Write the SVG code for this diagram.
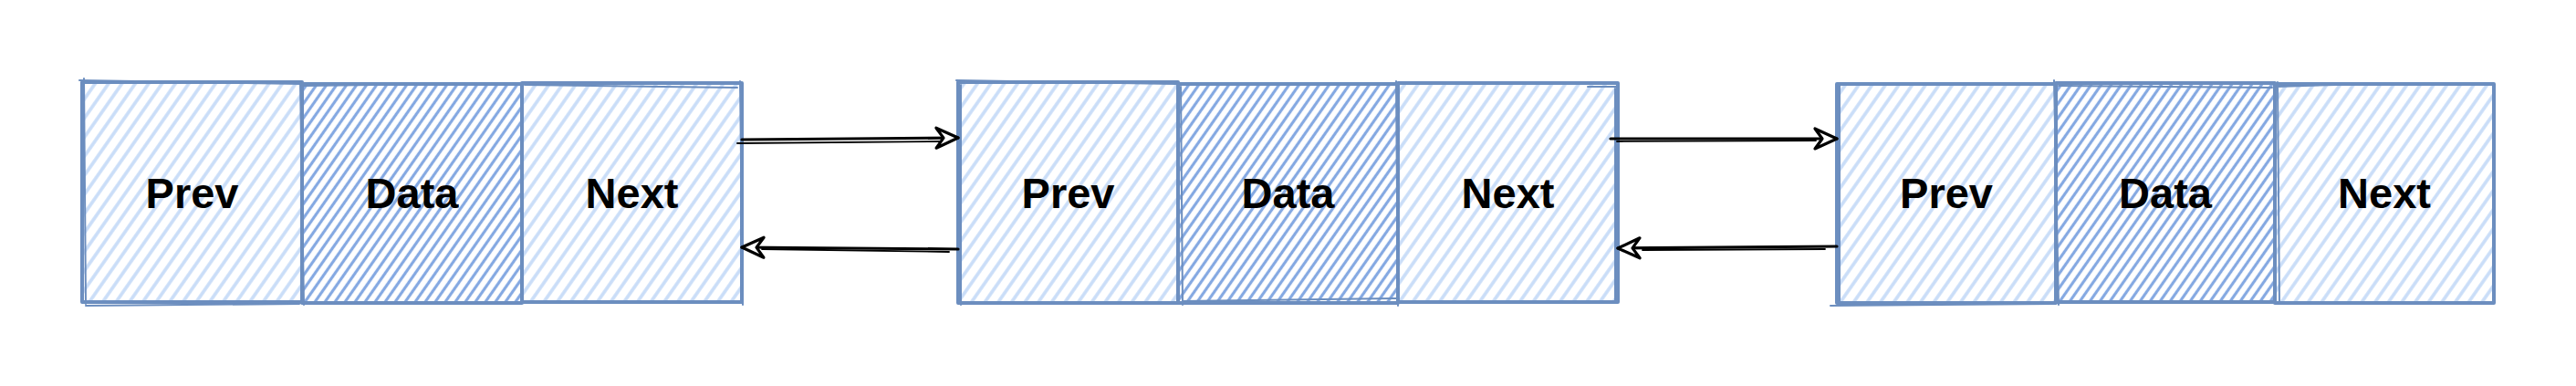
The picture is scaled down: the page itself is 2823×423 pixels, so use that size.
<svg xmlns="http://www.w3.org/2000/svg" width="2823" height="423" viewBox="0 0 2823 423">
  <style>
    .box { stroke: #6c8ebf; stroke-width: 4; stroke-linejoin: round; }
    .light { fill: url(#hLight); }
    .dark { fill: url(#hDark); }
    .rough { fill: none; stroke: #6c8ebf; stroke-width: 2; stroke-linecap: round; }
    .lbl { font-family: "Liberation Sans", Arial, Helvetica, sans-serif; font-weight: bold; font-size: 47px; fill: #000000; text-anchor: middle; }
    .edge { fill: none; stroke: #000000; stroke-width: 3.2; stroke-linecap: round; }
    .edge2 { fill: none; stroke: #000000; stroke-width: 1.8; stroke-linecap: round; }
  </style>
  <defs>
    <pattern id="hLight" patternUnits="userSpaceOnUse" width="12" height="12" patternTransform="rotate(35)">
      <rect x="0" y="0" width="12" height="12" fill="#ffffff"/>
      <line x1="6" y1="0" x2="6" y2="12" stroke="#c9ddf8" stroke-width="3.6"/>
    </pattern>
    <pattern id="hDark" patternUnits="userSpaceOnUse" width="9" height="9" patternTransform="rotate(35)">
      <rect x="0" y="0" width="9" height="9" fill="#ffffff"/>
      <line x1="4.5" y1="0" x2="4.5" y2="9" stroke="#85a9e2" stroke-width="3.2"/>
    </pattern>
    <marker id="arr" markerUnits="userSpaceOnUse" viewBox="-28 -14 32 28" markerWidth="32" markerHeight="28" refX="0" refY="0" orient="auto">
      <path d="M0,0 L-24,-11 L-16,0 L-24,11 Z" fill="#ffffff" stroke="#000000" stroke-width="3.2" stroke-linejoin="round"/>
    </marker>
  </defs>

  <g id="node1-prev">
    <rect class="box light" x="90" y="90" width="241" height="241"/>
    <path class="rough" d="M87 88 L330 92 M92 86 L94 333 M94 335 L328 333"/>
    <text class="lbl" x="210.5" y="228">Prev</text>
  </g>
  <g id="node1-data">
    <rect class="box dark" x="331" y="92" width="241" height="240"/>
    <path class="rough" d="M329 90 L333 334 M333 94 L570 91"/>
    <text class="lbl" x="451.5" y="228">Data</text>
  </g>
  <g id="node1-next">
    <rect class="box light" x="572" y="91" width="241" height="240"/>
    <path class="rough" d="M575 93 L808 96 M811 89 L814 334"/>
    <text class="lbl" x="692.5" y="228">Next</text>
  </g>

  <g id="node2-prev">
    <rect class="box light" x="1050" y="90" width="241" height="242"/>
    <path class="rough" d="M1048 88 L1289 92 M1053 93 L1053 334"/>
    <text class="lbl" x="1170.5" y="228">Prev</text>
  </g>
  <g id="node2-data">
    <rect class="box dark" x="1291" y="92" width="241" height="240"/>
    <path class="rough" d="M1294 95 L1296 334 M1296 330 L1530 327"/>
    <text class="lbl" x="1411.5" y="228">Data</text>
  </g>
  <g id="node2-next">
    <rect class="box light" x="1532" y="91" width="241" height="240"/>
    <path class="rough" d="M1530 89 L1532 335 M1740 95 L1772 95 M1770 97 L1770 330"/>
    <text class="lbl" x="1652.5" y="228">Next</text>
  </g>

  <g id="node3-prev">
    <rect class="box light" x="2013" y="92" width="240" height="240"/>
    <path class="rough" d="M2016 94 L2016 332 M2006 335 L2250 333"/>
    <text class="lbl" x="2133" y="228">Prev</text>
  </g>
  <g id="node3-data">
    <rect class="box dark" x="2253" y="91" width="240" height="240"/>
    <path class="rough" d="M2251 88 L2256 334 M2256 94 L2490 96"/>
    <text class="lbl" x="2373" y="228">Data</text>
  </g>
  <g id="node3-next">
    <rect class="box light" x="2493" y="92" width="240" height="240"/>
    <path class="rough" d="M2496 90 L2498 333 M2495 95 L2560 93"/>
    <text class="lbl" x="2613" y="228">Next</text>
  </g>

  <g id="connectors">
    <path class="edge" d="M813 153 L1050 151" marker-end="url(#arr)"/>
    <path class="edge2" d="M808 157 L1030 155"/>
    <path class="edge" d="M1050 273 L813 271" marker-end="url(#arr)"/>
    <path class="edge2" d="M1040 276 L835 273"/>
    <path class="edge" d="M1765 152 L2013 152" marker-end="url(#arr)"/>
    <path class="edge2" d="M1772 155 L1990 154"/>
    <path class="edge" d="M2013 270 L1773 272" marker-end="url(#arr)"/>
    <path class="edge2" d="M2000 273 L1800 274"/>
  </g>
</svg>
